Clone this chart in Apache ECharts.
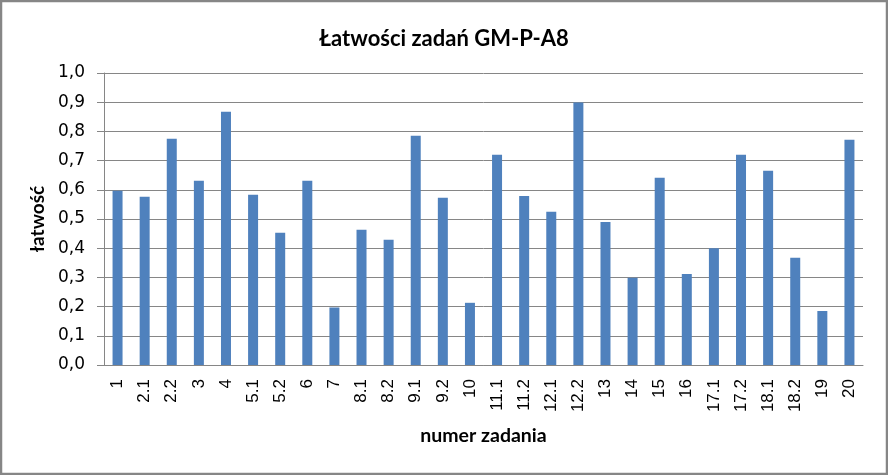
<!DOCTYPE html>
<html>
<head>
<meta charset="utf-8">
<script src="https://cdn.jsdelivr.net/npm/echarts@6/dist/echarts.min.js"></script>
<style>
html,body{margin:0;padding:0;background:#fff;}
#chart{width:888px;height:475px;}
</style>
</head>
<body>
<div id="chart"></div>
<script>
var categories = ['1','2.1','2.2','3','4','5.1','5.2','6','7','8.1','8.2','9.1','9.2','10','11.1','11.2','12.1','12.2','13','14','15','16','17.1','17.2','18.1','18.2','19','20'];
var values = [0.597,0.576,0.775,0.631,0.867,0.583,0.453,0.631,0.197,0.463,0.429,0.785,0.573,0.213,0.720,0.579,0.525,0.899,0.490,0.299,0.641,0.312,0.400,0.720,0.665,0.367,0.185,0.771];
var yTicks = [0,0.1,0.2,0.3,0.4,0.5,0.6,0.7,0.8,0.9,1.0];

var chart = echarts.init(document.getElementById('chart'), null, {renderer:'canvas'});
var font = 'Lato, "Open Sans", sans-serif';
chart.setOption({
  animation:false,
  backgroundColor:'#fff',
  title:{
    text:'Łatwości zadań GM-P-A8',
    left:'center', top:23,
    textStyle:{fontFamily:font, fontSize:22, fontWeight:'bold', color:'#000'}
  },
  graphic:[{type:'rect', shape:{x:1,y:1,width:886,height:473}, style:{fill:null, stroke:'#868686', lineWidth:2.5}, silent:true}],
  grid:{left:104, right:25, top:73, bottom:110},
  xAxis:{
    type:'category',
    data:categories,
    name:'numer zadania',
    nameLocation:'middle',
    nameGap:61,
    nameTextStyle:{fontFamily:font, fontSize:19.5, fontWeight:'bold', color:'#000'},
    axisLine:{lineStyle:{color:'#868686', width:1}},
    axisTick:{show:false},
    axisLabel:{rotate:90, margin:14, fontFamily:'"Liberation Sans", Arial, sans-serif', fontSize:17, color:'#000', interval:0}
  },
  yAxis:{
    type:'value',
    min:yTicks[0], max:yTicks[yTicks.length-1], interval:0.1,
    name:'łatwość',
    nameLocation:'middle',
    nameGap:52,
    nameTextStyle:{fontFamily:font, fontSize:19, fontWeight:'bold', color:'#000'},
    axisLine:{show:true, lineStyle:{color:'#868686', width:1}},
    axisTick:{show:true, length:7, lineStyle:{color:'#868686'}},
    splitLine:{lineStyle:{color:'#868686', width:1}},
    axisLabel:{margin:19, fontFamily:'"DejaVu Sans", sans-serif', fontSize:17, color:'#000',
      formatter:function(v){return v.toFixed(1).replace('.',',');}}
  },
  series:[{
    type:'bar',
    data:values,
    barWidth:10,
    itemStyle:{color:'#4F81BD'}
  }]
});
</script>
</body>
</html>
